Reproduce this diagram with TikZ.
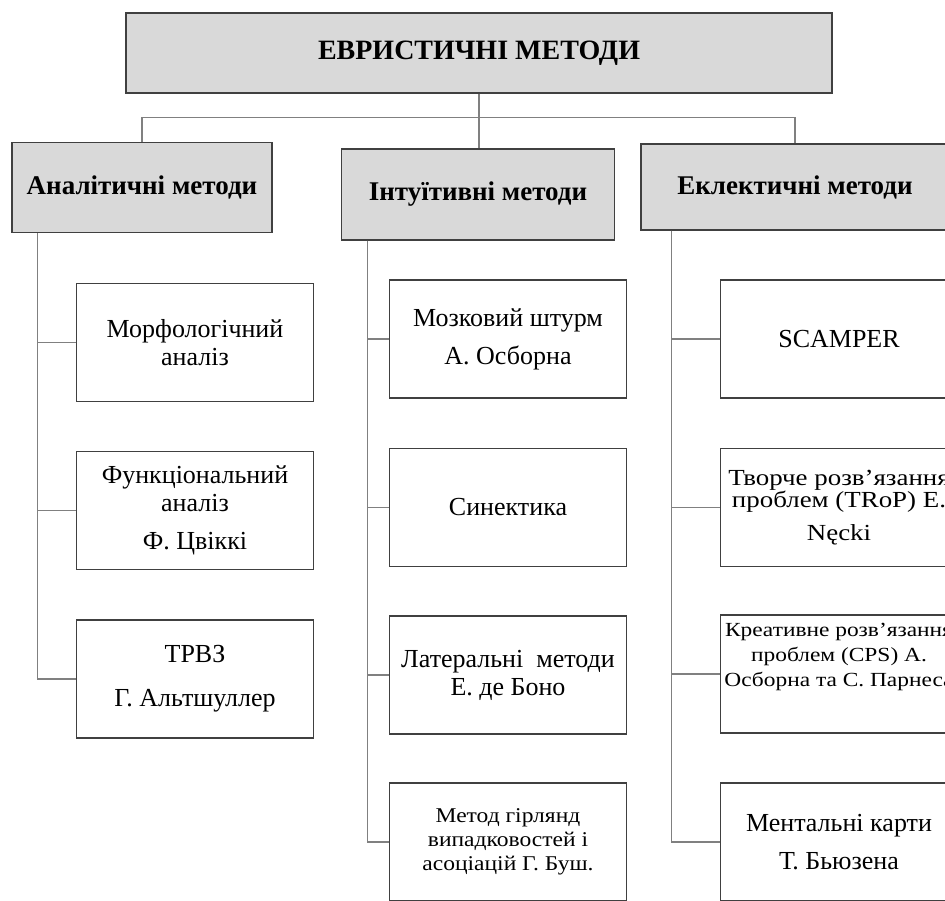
\documentclass[tikz,border=0pt]{standalone}
\usepackage{fontspec}
\setmainfont{Liberation Serif}
\newfontfamily\widefont[FakeStretch=1.17]{Liberation Serif}
\newfontfamily\semiwide[FakeStretch=1.12]{Liberation Serif}
\begin{document}
\begin{tikzpicture}[x=1pt,y=-1pt,
  box/.style={draw=black!75, line width=1.4pt, rectangle, align=center, inner sep=0pt},
  head/.style={box, fill=black!15, font=\bfseries\fontsize{27}{30}\selectfont},
  leaf/.style={box, fill=white, minimum width=237pt, minimum height=118pt, font=\fontsize{26}{28}\selectfont},
  small/.style={font=\semiwide\fontsize{21}{24}\selectfont},
  mid/.style={font=\widefont\fontsize{23}{21}\selectfont},
  tiny/.style={font=\widefont\fontsize{20}{25}\selectfont},
  conn/.style={draw=black!50, line width=1.3pt}]
\useasboundingbox (0,0) rectangle (945,900);
\fill[white] (0,0) rectangle (945,900);
\clip (0,0) rectangle (945,900);

% top
\node[head, minimum width=706pt, minimum height=80pt, font=\bfseries\fontsize{28}{30}\selectfont] (top) at (479,53) {\raisebox{-2pt}{ЕВРИСТИЧНІ МЕТОДИ}};

% level 2
\node[head, minimum width=260pt, minimum height=90pt] (h1) at (142,187.5) {Аналітичні методи};
\node[head, minimum width=273pt, minimum height=91pt] (h2) at (478,194.5) {Інтуїтивні методи};
\node[head, minimum width=308pt, minimum height=86pt] (h3) at (795,187) {Еклектичні методи};

% left leaves
\node[leaf] (a1) at (195,342.5) {Морфологічний\\аналіз};
\node[leaf] (a2) at (195,510.5) {Функціональний\\аналіз\\[10pt]Ф. Цвіккі};
\node[leaf] (a3) at (195,679) {ТРВЗ\\[16pt]Г. Альтшуллер};

% middle leaves
\node[leaf] (b1) at (508,339) {Мозковий штурм\\[10pt]А. Осборна};
\node[leaf] (b2) at (508,507.5) {Синектика};
\node[leaf] (b3) at (508,675) {Латеральні\ \ методи\\Е. де Боно};
\node[leaf, small] (b4) at (508,842) {Метод гірлянд\\випадковостей і\\асоціацій Г. Буш.};

% right leaves
\node[leaf] (c1) at (839,339) {SCAMPER};
\node[leaf, mid] (c2) at (839,507.5) {Творче розв’язання\\проблем (TRoP) E.\\[12pt]Nęcki};
\node[leaf, tiny] (c3) at (839,674) {Креативне розв’язання\\проблем (CPS) А.\\Осборна та С. Парнеса\\[14pt]};
\node[leaf] (c4) at (839,842) {Ментальні карти\\[10pt]Т. Бьюзена};

% top connectors
\coordinate (j) at ([yshift=-24pt]top.south);
\draw[conn] (top.south) -- (j);
\draw[conn] (h1.north) |- (j) -| (h3.north);
\draw[conn] (j) -- (j |- h2.north);

% trunks
\coordinate (t1) at ([xshift=26pt]h1.south west);
\coordinate (t2) at ([xshift=27pt]h2.south west);
\coordinate (t3) at ([xshift=31pt]h3.south west);
\draw[conn] (t1) |- (a1.west);
\draw[conn] (t1) |- (a2.west);
\draw[conn] (t1) |- (a3.west);
\draw[conn] (t2) |- (b1.west);
\draw[conn] (t2) |- (b2.west);
\draw[conn] (t2) |- (b3.west);
\draw[conn] (t2) |- (b4.west);
\draw[conn] (t3) |- (c1.west);
\draw[conn] (t3) |- (c2.west);
\draw[conn] (t3) |- (c3.west);
\draw[conn] (t3) |- (c4.west);
\end{tikzpicture}
\end{document}
